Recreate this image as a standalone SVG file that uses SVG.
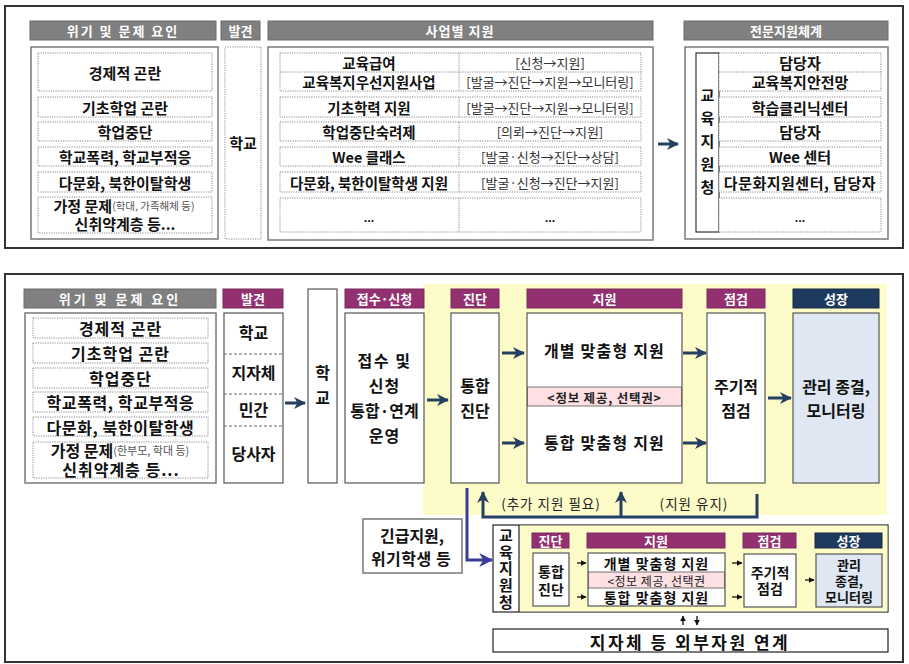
<svg xmlns="http://www.w3.org/2000/svg" width="909" height="664" viewBox="0 0 909 664">
<defs>
<style>
text{font-family:"Noto Sans CJK KR","Noto Sans",sans-serif;dominant-baseline:central;text-anchor:middle;}
.b{font-weight:bold;fill:#111;}
.hd{font-weight:bold;fill:#fff;font-size:13px;}
.gh{fill:#808080;stroke:#6a6a6a;stroke-width:1;}
.ph{fill:#93306f;stroke:#7a2a5c;stroke-width:1;}
.nh{fill:#1f3a5f;stroke:#162b47;stroke-width:1;}
.cb{fill:#fff;stroke:#7a7a7a;stroke-width:1.5;}
.dt{fill:#fff;stroke:#8a8a8a;stroke-width:1;stroke-dasharray:1.2 1.2;}
.sb{fill:#fff;stroke:#555;stroke-width:1.2;}
.br{font-size:13px;fill:#333;}
.vt{writing-mode:vertical-rl;}
.con{fill:none;stroke:#243f60;stroke-width:3;}
.cs{fill:none;stroke:#111;stroke-width:1.3;}
</style>
<marker id="ah" viewBox="0 0 12 12" refX="11" refY="6" markerWidth="12" markerHeight="12" markerUnits="userSpaceOnUse" orient="auto"><path d="M0,0 L12,6 L0,12 L3.5,6 z" fill="#243f60"/></marker>
<marker id="ahp" viewBox="0 0 12 12" refX="11" refY="6" markerWidth="14" markerHeight="14" markerUnits="userSpaceOnUse" orient="auto"><path d="M0,0 L12,6 L0,12 L3.5,6 z" fill="#3b3b9a"/></marker>
<marker id="ahs" viewBox="0 0 10 10" refX="9" refY="5" markerWidth="6" markerHeight="6" markerUnits="userSpaceOnUse" orient="auto"><path d="M0,0 L10,5 L0,10 z" fill="#111"/></marker>
</defs>
<rect width="909" height="664" fill="#fff"/>

<!-- ===== TOP PANEL ===== -->
<g id="top-panel">
<rect x="5" y="6" width="898" height="242" fill="#fff" stroke="#333" stroke-width="2"/>
</g>
<g id="top-headers">
<rect class="gh" x="30" y="21" width="186" height="19"/><text class="hd" x="123" y="30.5" letter-spacing="2">위기 및 문제 요인</text>
<rect class="gh" x="221" y="21" width="39" height="19"/><text class="hd" x="240.5" y="30.5">발견</text>
<rect class="gh" x="268" y="21" width="385" height="19"/><text class="hd" x="460" y="30.5" letter-spacing="1">사업별 지원</text>
<rect class="gh" x="684" y="21" width="204" height="19"/><text class="hd" x="786" y="30.5">전문지원체계</text>
</g>
<g id="top-factors">
<rect class="cb" x="31" y="47" width="187" height="192"/>
<rect class="dt" x="38" y="53" width="174" height="38"/><text class="b" x="125" y="72" font-size="15">경제적 곤란</text>
<rect class="dt" x="38" y="97" width="174" height="20"/><text class="b" x="125" y="107" font-size="15">기초학업 곤란</text>
<rect class="dt" x="38" y="122" width="174" height="19"/><text class="b" x="125" y="131.5" font-size="15">학업중단</text>
<rect class="dt" x="38" y="147" width="174" height="19"/><text class="b" x="125" y="156.5" font-size="15">학교폭력, 학교부적응</text>
<rect class="dt" x="38" y="172" width="174" height="20"/><text class="b" x="125" y="182" font-size="15">다문화, 북한이탈학생</text>
<rect class="dt" x="38" y="197" width="174" height="36"/>
<text class="b" font-size="15"><tspan x="124" y="205">가정 문제<tspan font-size="10.5" font-weight="normal" fill="#555">(학대, 가족해체 등)</tspan></tspan><tspan x="125" y="223">신취약계층 등...</tspan></text>
</g>
<g id="top-discover">
<rect class="dt" x="225" y="47" width="36" height="192"/><text class="b" x="243" y="142" font-size="15">학교</text>
</g>
<g id="top-programs">
<rect class="cb" x="268" y="47" width="385" height="193"/>
<rect class="dt" x="280" y="53" width="361" height="38"/><line x1="280" y1="72" x2="641" y2="72" stroke="#8a8a8a" stroke-dasharray="1.2 1.2"/>
<rect class="dt" x="280" y="97" width="361" height="20"/>
<rect class="dt" x="280" y="122" width="361" height="19"/>
<rect class="dt" x="280" y="147" width="361" height="19"/>
<rect class="dt" x="280" y="172" width="361" height="20"/>
<rect class="dt" x="280" y="198" width="361" height="34"/>
<g stroke="#8a8a8a" stroke-dasharray="1.2 1.2"><line x1="459" y1="53" x2="459" y2="91"/><line x1="459" y1="97" x2="459" y2="117"/><line x1="459" y1="122" x2="459" y2="141"/><line x1="459" y1="147" x2="459" y2="166"/><line x1="459" y1="172" x2="459" y2="192"/><line x1="459" y1="198" x2="459" y2="232"/></g>
<text class="b" x="369" y="62.5" font-size="14.5">교육급여</text><text class="br" x="550" y="62.5">[신청→지원]</text>
<text class="b" x="369" y="81.5" font-size="14.5">교육복지우선지원사업</text><text class="br" x="550" y="81.5">[발굴→진단→지원→모니터링]</text>
<text class="b" x="369" y="107" font-size="14.5">기초학력 지원</text><text class="br" x="550" y="107">[발굴→진단→지원→모니터링]</text>
<text class="b" x="369" y="131.5" font-size="14.5">학업중단숙려제</text><text class="br" x="550" y="131.5">[의뢰→진단→지원]</text>
<text class="b" x="369" y="156.5" font-size="14.5">Wee 클래스</text><text class="br" x="550" y="156.5">[발굴·신청→진단→상담]</text>
<text class="b" x="369" y="182" font-size="14.5">다문화, 북한이탈학생 지원</text><text class="br" x="550" y="182">[발굴·신청→진단→지원]</text>
<text class="b" x="369" y="217" font-size="11">...</text><text class="b" x="550" y="217" font-size="11">...</text>
</g>
<g id="top-expert">
<rect class="cb" x="685" y="47" width="203" height="192"/>
<rect x="696" y="53" width="23" height="179" fill="#fff" stroke="#333" stroke-width="1.2"/>
<text class="b vt" x="707.5" y="145" font-size="15" letter-spacing="8">교육지원청</text>
<rect class="dt" x="719" y="53" width="162" height="38"/><line x1="719" y1="72" x2="881" y2="72" stroke="#8a8a8a" stroke-dasharray="1.2 1.2"/>
<rect class="dt" x="719" y="97" width="162" height="20"/>
<rect class="dt" x="719" y="122" width="162" height="19"/>
<rect class="dt" x="719" y="147" width="162" height="19"/>
<rect class="dt" x="719" y="172" width="162" height="20"/>
<rect class="dt" x="719" y="198" width="162" height="34"/>
<text class="b" x="800" y="62.5" font-size="15">담당자</text>
<text class="b" x="800" y="81.5" font-size="15">교육복지안전망</text>
<text class="b" x="800" y="107" font-size="15">학습클리닉센터</text>
<text class="b" x="800" y="131.5" font-size="15">담당자</text>
<text class="b" x="800" y="156.5" font-size="15">Wee 센터</text>
<text class="b" x="800" y="182" font-size="15" letter-spacing="0.5">다문화지원센터, 담당자</text>
<text class="b" x="800" y="217" font-size="11">...</text>
</g>

<!-- ===== BOTTOM PANEL ===== -->
<g id="bottom-panel">
<rect x="5" y="274" width="898" height="388" fill="#fff" stroke="#333" stroke-width="2"/>
<rect x="423" y="284" width="464" height="231" fill="#fdfcc9"/>
</g>
<g id="b-factors">
<rect class="gh" x="24" y="289" width="192" height="19"/><text class="hd" x="120" y="298.5" font-size="14" letter-spacing="3">위기 및 문제 요인</text>
<rect class="cb" x="25" y="313" width="191" height="170"/>
<rect class="dt" x="33" y="318" width="175" height="20"/><text class="b" x="120.5" y="328" font-size="16" letter-spacing="1">경제적 곤란</text>
<rect class="dt" x="33" y="343" width="175" height="20"/><text class="b" x="120.5" y="353" font-size="16" letter-spacing="1">기초학업 곤란</text>
<rect class="dt" x="33" y="368" width="175" height="20"/><text class="b" x="120.5" y="378" font-size="16" letter-spacing="1">학업중단</text>
<rect class="dt" x="33" y="392" width="175" height="20"/><text class="b" x="120.5" y="402" font-size="16" letter-spacing="0.6">학교폭력, 학교부적응</text>
<rect class="dt" x="33" y="417" width="175" height="19"/><text class="b" x="120.5" y="426.5" font-size="16" letter-spacing="0.6">다문화, 북한이탈학생</text>
<rect class="dt" x="33" y="442" width="175" height="36"/>
<text class="b" font-size="16"><tspan x="120" y="450">가정 문제<tspan font-size="11" font-weight="normal" fill="#555">(한부모, 학대 등)</tspan></tspan><tspan x="121" y="469" letter-spacing="1">신취약계층 등...</tspan></text>
</g>
<g id="b-discover">
<rect class="ph" x="223" y="289" width="60" height="19"/><text class="hd" x="253" y="298.5" font-size="14">발견</text>
<rect class="sb" x="224" y="313" width="59" height="170"/>
<g stroke="#666" stroke-dasharray="3 2"><line x1="224" y1="354" x2="283" y2="354"/><line x1="224" y1="394" x2="283" y2="394"/><line x1="224" y1="426" x2="283" y2="426"/></g>
<text class="b" x="253.5" y="332" font-size="16">학교</text>
<text class="b" x="253.5" y="372" font-size="16">지자체</text>
<text class="b" x="253.5" y="409" font-size="16">민간</text>
<text class="b" x="253.5" y="453" font-size="16">당사자</text>
</g>
<g id="b-school">
<rect class="sb" x="308" y="289" width="29" height="194"/>
<text class="b vt" x="322.5" y="390" font-size="16" letter-spacing="9">학교</text>
</g>
<g id="b-intake">
<rect class="ph" x="345" y="289" width="79" height="19"/><text class="hd" x="384.5" y="298.5" font-size="14">접수·신청</text>
<rect class="sb" x="345" y="313" width="79" height="170"/>
<text class="b" font-size="16"><tspan x="384.5" y="360" letter-spacing="1.5">접수 및</tspan><tspan x="384.5" y="385" letter-spacing="1">신청</tspan><tspan x="384.5" y="410">통합·연계</tspan><tspan x="384.5" y="435" letter-spacing="1">운영</tspan></text>
</g>
<g id="b-diag">
<rect class="ph" x="451" y="289" width="48" height="19"/><text class="hd" x="475" y="298.5" font-size="14">진단</text>
<rect class="sb" x="451" y="313" width="48" height="170"/>
<text class="b" font-size="16"><tspan x="475" y="385">통합</tspan><tspan x="475" y="410">진단</tspan></text>
</g>
<g id="b-support">
<rect class="ph" x="527" y="289" width="155" height="19"/><text class="hd" x="604.5" y="298.5" font-size="14">지원</text>
<rect class="sb" x="527" y="313" width="155" height="170"/>
<rect x="527.6" y="387" width="153.8" height="19" fill="#fde0e3" stroke="#555" stroke-width="0.8"/>
<text class="b" x="604.5" y="350" font-size="16" letter-spacing="1.2">개별 맞춤형 지원</text>
<text x="604.5" y="397" font-size="12.5" fill="#222" letter-spacing="0.8" font-weight="bold">&lt;정보 제공, 선택권&gt;</text>
<text class="b" x="604.5" y="442" font-size="16" letter-spacing="1.2">통합 맞춤형 지원</text>
</g>
<g id="b-check">
<rect class="ph" x="707" y="289" width="58" height="19"/><text class="hd" x="736" y="298.5" font-size="14">점검</text>
<rect class="sb" x="707" y="313" width="58" height="170"/>
<text class="b" font-size="16"><tspan x="736" y="386">주기적</tspan><tspan x="736" y="410">점검</tspan></text>
</g>
<g id="b-growth">
<rect class="nh" x="793" y="289" width="86" height="19"/><text class="hd" x="836" y="298.5" font-size="14">성장</text>
<rect x="793" y="313" width="86" height="170" fill="#dfe7f2" stroke="#555" stroke-width="1.2"/>
<text class="b" font-size="16"><tspan x="836" y="386">관리 종결,</tspan><tspan x="836" y="410">모니터링</tspan></text>
</g>
<g id="b-emergency">
<rect x="363" y="519" width="99" height="54" fill="#fff" stroke="#777" stroke-width="1.5"/>
<text class="b" font-size="16"><tspan x="412" y="535">긴급지원,</tspan><tspan x="411" y="558" letter-spacing="0.5">위기학생 등</tspan></text>
</g>
<g id="b-office">
<rect x="493" y="525" width="395" height="87" fill="#fff" stroke="#222" stroke-width="1.2"/>
<rect x="519.6" y="525.6" width="367.8" height="85.8" fill="#fdfcc9"/>
<line x1="519" y1="525" x2="519" y2="612" stroke="#222" stroke-width="1.2"/>
<text class="b vt" x="506" y="569.5" font-size="15" letter-spacing="1.6">교육지원청</text>
<rect class="ph" x="532" y="533" width="37" height="15"/><text class="hd" x="550.5" y="540.5" font-size="12">진단</text>
<rect class="ph" x="587" y="533" width="138" height="15"/><text class="hd" x="656" y="540.5" font-size="12">지원</text>
<rect class="ph" x="743" y="533" width="53" height="15"/><text class="hd" x="769.5" y="540.5" font-size="12">점검</text>
<rect class="nh" x="815" y="533" width="67" height="15"/><text class="hd" x="848.5" y="540.5" font-size="12">성장</text>
<rect class="sb" x="533" y="553" width="36" height="53"/>
<text class="b" font-size="14"><tspan x="551" y="571">통합</tspan><tspan x="551" y="589">진단</tspan></text>
<rect class="sb" x="588" y="553" width="137" height="53"/>
<rect x="588.6" y="572" width="135.8" height="16" fill="#fde0e3" stroke="#555" stroke-width="0.8"/>
<text class="b" x="656.5" y="562.5" font-size="14" letter-spacing="1">개별 맞춤형 지원</text>
<text x="656.5" y="580" font-size="12" fill="#222" letter-spacing="0.5">&lt;정보 제공, 선택권</text>
<text class="b" x="656.5" y="597" font-size="14" letter-spacing="1">통합 맞춤형 지원</text>
<rect class="sb" x="744" y="554" width="52" height="53"/>
<text class="b" font-size="14"><tspan x="770" y="572">주기적</tspan><tspan x="770" y="588">점검</tspan></text>
<rect x="816" y="554" width="66" height="53" fill="#dfe7f2" stroke="#555" stroke-width="1.2"/>
<text class="b" font-size="13"><tspan x="849" y="564">관리</tspan><tspan x="849" y="580">종결,</tspan><tspan x="849" y="596">모니터링</tspan></text>
</g>
<g id="b-external">
<rect x="493" y="629" width="395" height="23" fill="#fff" stroke="#222" stroke-width="1.2"/>
<text class="b" x="690" y="641" font-size="17" letter-spacing="2.5">지자체 등 외부자원 연계</text>
</g>

<g id="connectors">
<line x1="658" y1="144" x2="678" y2="144" class="con" stroke-width="2.5" marker-end="url(#ah)"/>
<line x1="285" y1="403" x2="305" y2="403" class="con" marker-end="url(#ah)"/>
<line x1="427" y1="400" x2="448" y2="400" class="con" marker-end="url(#ah)"/>
<line x1="502" y1="353" x2="524" y2="353" class="con" marker-end="url(#ah)"/>
<line x1="502" y1="443" x2="524" y2="443" class="con" marker-end="url(#ah)"/>
<line x1="683" y1="353" x2="706" y2="353" class="con" marker-end="url(#ah)"/>
<line x1="683" y1="443" x2="706" y2="443" class="con" marker-end="url(#ah)"/>
<line x1="768" y1="398" x2="791" y2="398" class="con" marker-end="url(#ah)"/>
<path d="M757,494 V517 H483 V492" class="con" stroke-width="2.5" marker-end="url(#ah)"/>
<line x1="621" y1="517" x2="621" y2="492" class="con" stroke-width="2.5" marker-end="url(#ah)"/>
<path d="M467,488 V560 H492" fill="none" stroke="#3b3b9a" stroke-width="3" marker-end="url(#ahp)"/>
<line x1="577" y1="563" x2="586" y2="563" class="cs" marker-end="url(#ahs)"/>
<line x1="577" y1="597" x2="586" y2="597" class="cs" marker-end="url(#ahs)"/>
<line x1="732" y1="563" x2="742" y2="563" class="cs" marker-end="url(#ahs)"/>
<line x1="732" y1="597" x2="742" y2="597" class="cs" marker-end="url(#ahs)"/>
<line x1="805" y1="580" x2="814" y2="580" class="cs" marker-end="url(#ahs)"/>
<line x1="683" y1="625" x2="683" y2="616" class="cs" stroke-width="1.8" marker-end="url(#ahs)"/>
<line x1="697" y1="616" x2="697" y2="625" class="cs" stroke-width="1.8" marker-end="url(#ahs)"/>
<text x="551" y="503" font-size="13.5" fill="#222" letter-spacing="1">(추가 지원 필요)</text>
<text x="694" y="503" font-size="13.5" fill="#222" letter-spacing="1">(지원 유지)</text>
</g>
</svg>
